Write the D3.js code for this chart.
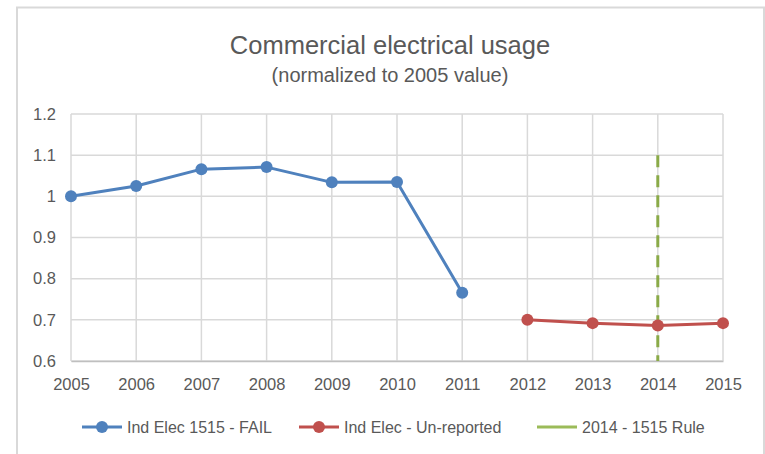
<!DOCTYPE html>
<html>
<head>
<meta charset="utf-8">
<script src="https://cdn.jsdelivr.net/npm/d3@7"></script>
<style>
  body { margin: 0; background: #fff; }
  svg text { font-family: "Liberation Sans", Arial, sans-serif; fill: #595959; }
</style>
</head>
<body>
<div id="chart"></div>
<script>
// data
let years = [2005, 2006, 2007, 2008, 2009, 2010, 2011, 2012, 2013, 2014, 2015];
let failYears = [2005, 2006, 2007, 2008, 2009, 2010, 2011];
let failValues = [1.0, 1.025, 1.066, 1.071, 1.034, 1.035, 0.766];
let unrepYears = [2012, 2013, 2014, 2015];
let unrepValues = [0.70, 0.692, 0.686, 0.692];
let ruleYears = [2014, 2014];
let ruleValues = [1.1, 0.6];
let yTicks = [0.6, 0.7, 0.8, 0.9, 1, 1.1, 1.2];
let seriesNames = ["Ind Elec 1515 - FAIL", "Ind Elec - Un-reported", "2014 - 1515 Rule"];

let width = 765;
let height = 454;

let svg = d3.select("#chart")
    .append("svg")
    .attr("width", width)
    .attr("height", height);

// chart border
svg.append("rect")
    .attr("x", 17)
    .attr("y", 7.5)
    .attr("width", 747)
    .attr("height", 460)
    .attr("fill", "#fff")
    .attr("stroke", "#d9d9d9")
    .attr("stroke-width", 2);

/* titles */
svg.append("text")
    .attr("x", 390)
    .attr("y", 54)
    .attr("text-anchor", "middle")
    .style("font-size", "25.5px")
    .text("Commercial electrical usage");

svg.append("text")
    .attr("x", 390)
    .attr("y", 82)
    .attr("text-anchor", "middle")
    .style("font-size", "20px")
    .text("(normalized to 2005 value)");

/* scales */
let xScale = d3.scaleLinear()
    .domain([2005, 2015])
    .range([71, 723]);

let yScale = d3.scaleLinear()
    .domain([0.6, 1.2])
    .range([361, 114]);

/* grid */
svg.append("g")
    .selectAll("line")
    .data(yTicks)
    .join("line")
    .attr("x1", xScale(2005))
    .attr("x2", xScale(2015))
    .attr("y1", d => yScale(d))
    .attr("y2", d => yScale(d))
    .attr("stroke", "#d9d9d9")
    .attr("stroke-width", 1.5);

svg.append("g")
    .selectAll("line")
    .data(years)
    .join("line")
    .attr("x1", d => xScale(d))
    .attr("x2", d => xScale(d))
    .attr("y1", yScale(1.2))
    .attr("y2", yScale(0.6))
    .attr("stroke", "#d9d9d9")
    .attr("stroke-width", 1.5);

/* x axis */
let xAxis = d3.axisBottom(xScale)
    .tickValues(years)
    .tickFormat(d3.format("d"))
    .tickSize(0)
    .tickPadding(17);

let gx = svg.append("g")
    .attr("transform", "translate(0," + yScale(0.6) + ")")
    .call(xAxis);
gx.select(".domain").attr("stroke", "#bfbfbf").attr("stroke-width", 1.5);
gx.selectAll("text").style("font-size", "16.5px").attr("fill", "#595959");

/* y axis */
let yAxis = d3.axisLeft(yScale)
    .tickValues(yTicks)
    .tickFormat(d => String(d))
    .tickSize(0)
    .tickPadding(15);

let gy = svg.append("g")
    .attr("transform", "translate(" + xScale(2005) + ",0)")
    .call(yAxis);
gy.select(".domain").remove();
gy.selectAll("text").style("font-size", "16.5px").attr("fill", "#595959");

/* series */
let line = d3.line()
    .x(d => xScale(d[0]))
    .y(d => yScale(d[1]));

function drawSeries(xs, vs, color) {
    let pts = xs.map((x, i) => [x, vs[i]]);
    svg.append("path")
        .datum(pts)
        .attr("d", line)
        .attr("fill", "none")
        .attr("stroke", color)
        .attr("stroke-width", 3)
        .attr("stroke-linejoin", "round");
    svg.append("g")
        .selectAll("circle")
        .data(pts)
        .join("circle")
        .attr("cx", d => xScale(d[0]))
        .attr("cy", d => yScale(d[1]))
        .attr("r", 6)
        .attr("fill", color);
}

let blue = "#4f81bd";
let red = "#c0504d";
let green = "#8aaa48";

// rule line first so markers sit on top
svg.append("path")
    .datum(ruleYears.map((x, i) => [x, ruleValues[i]]))
    .attr("d", line)
    .attr("fill", "none")
    .attr("stroke", green)
    .attr("stroke-width", 3)
    .attr("stroke-dasharray", "12,8");

drawSeries(failYears, failValues, blue);
drawSeries(unrepYears, unrepValues, red);

/* legend */
let legendY = 427;
let legendItems = [
    { name: seriesNames[0], color: blue, x: 82, marker: true },
    { name: seriesNames[1], color: red, x: 299, marker: true },
    { name: seriesNames[2], color: "#9bbb59", x: 537, marker: false }
];

let lg = svg.append("g")
    .selectAll("g")
    .data(legendItems)
    .join("g")
    .attr("transform", d => "translate(" + d.x + "," + legendY + ")");

lg.append("line")
    .attr("x1", 0)
    .attr("x2", 40)
    .attr("stroke", d => d.color)
    .attr("stroke-width", 3);

lg.filter(d => d.marker)
    .append("circle")
    .attr("cx", 20)
    .attr("r", 6)
    .attr("fill", d => d.color);

lg.append("text")
    .attr("x", 45)
    .attr("dy", "0.35em")
    .style("font-size", "16px")
    .text(d => d.name);
</script>
</body>
</html>
